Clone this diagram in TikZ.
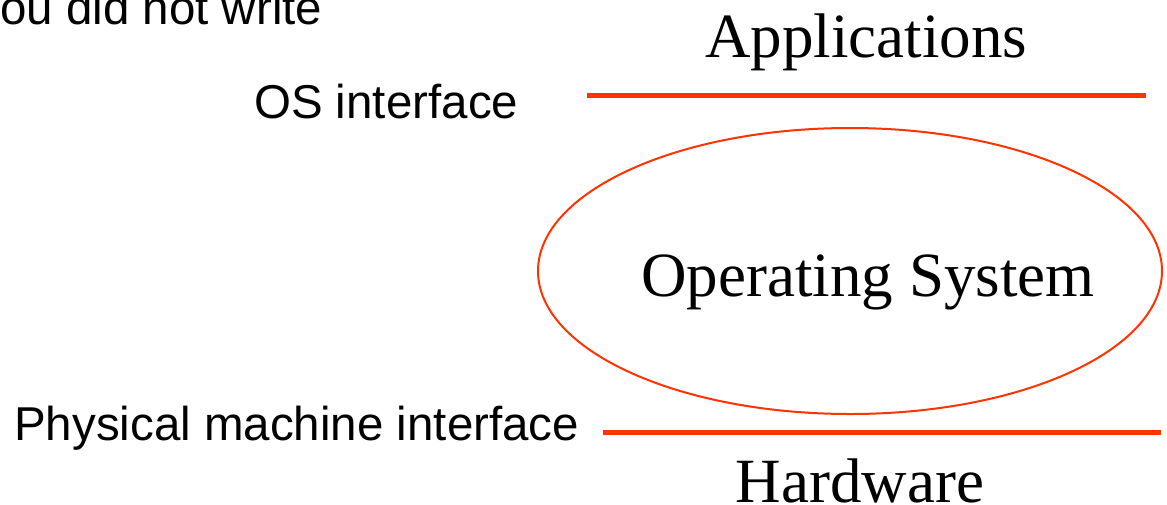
\documentclass[tikz,border=0pt]{standalone}
\usepackage{fontspec}
\setmainfont{Liberation Serif}
\setsansfont{Liberation Sans}
\usetikzlibrary{shapes.geometric}
\definecolor{osred}{HTML}{FF3300}
\begin{document}
\begin{tikzpicture}[x=1pt,y=-1pt,
  serifbig/.style={font=\rmfamily\fontsize{63}{70}\selectfont, inner sep=0pt, anchor=base},
  sanslabel/.style={font=\sffamily\fontsize{47.5}{55}\selectfont, inner sep=0pt, anchor=base west},
  layerline/.style={draw=osred, line width=5pt},
  osellipse/.style={ellipse, draw=osred, line width=2pt, minimum width=624pt, minimum height=286pt, inner sep=0pt}
]
\useasboundingbox (0,0) rectangle (1167,504);
\node[sanslabel] (note) at (0,24) {ou did not write};
\node[serifbig] (apps) at (866,57) {Applications};
\node[sanslabel] (osif) at (254,118) {OS interface};
\coordinate (t1) at (587,95);
\coordinate (t2) at (1146,95);
\draw[layerline] (t1) -- (t2);
\node[osellipse] (os) at (850,271) {};
\node[serifbig] (ostext) at (868,296) {Operating System};
\node[sanslabel] (pmi) at (14,440) {Physical machine interface};
\coordinate (b1) at (603,432);
\coordinate (b2) at (1161,432);
\draw[layerline] (b1) -- (b2);
\node[serifbig] (hw) at (860,502) {Hardware};
\end{tikzpicture}
\end{document}
